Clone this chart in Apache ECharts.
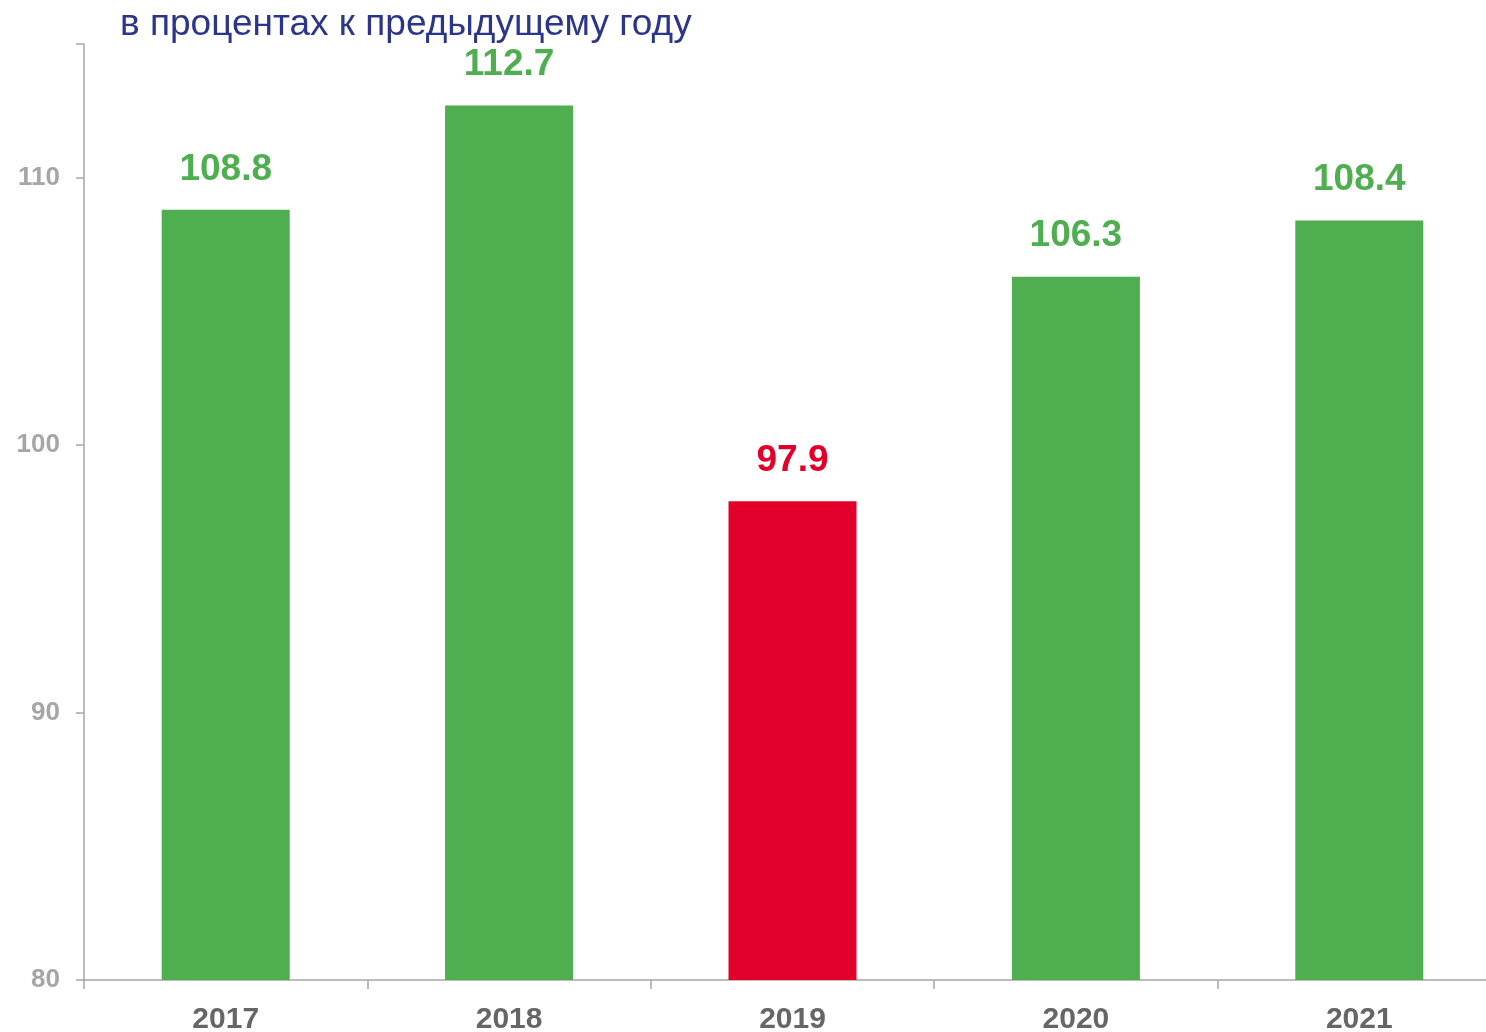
<!DOCTYPE html>
<html>
<head>
<meta charset="utf-8">
<script src="https://cdn.jsdelivr.net/npm/echarts@6/dist/echarts.min.js"></script>
<style>html,body{margin:0;padding:0;background:#fff}#c{width:1486px;height:1032px}</style>
</head>
<body>
<div id="c"></div>
<script>
var titleText = 'в процентах к предыдущему году';
var categories = ['2017', '2018', '2019', '2020', '2021'];
var values = [108.8, 112.7, 97.9, 106.3, 108.4];
var yTicks = [80, 90, 100, 110];

var GREEN = '#4FAE4F', RED = '#E2002B';
var chart = echarts.init(document.getElementById('c'));
chart.setOption({
  animation: false,
  title: {
    text: titleText, left: 115, top: 1,
    textStyle: { color: '#2B3589', fontSize: 37, fontWeight: 'normal', fontFamily: 'Liberation Sans, Arial, sans-serif' }
  },
  grid: { left: 84, right: -15, top: 44, bottom: 52, containLabel: false, outerBoundsMode: 'none' },
  xAxis: {
    type: 'category', data: categories,
    axisLine: { lineStyle: { color: '#A6A6A6', width: 1.5 } },
    axisTick: { show: true, length: 9, lineStyle: { color: '#A6A6A6', width: 1.5 } },
    axisLabel: { color: '#666666', fontSize: 30, fontWeight: 'bold', margin: 25, fontFamily: 'Liberation Sans, Arial, sans-serif' }
  },
  yAxis: {
    type: 'value', min: 80, max: 115, interval: 10,
    splitLine: { show: false },
    axisLine: { show: true, lineStyle: { color: '#A6A6A6', width: 1.5 } },
    axisTick: { show: true, length: 8, lineStyle: { color: '#A6A6A6', width: 1.5 } },
    axisLabel: {
      color: '#A6A6A6', fontSize: 26, fontWeight: 'bold', margin: 24, fontFamily: 'Liberation Sans, Arial, sans-serif',
      formatter: function (v) { return yTicks.indexOf(v) >= 0 ? String(v) : ''; }
    }
  },
  series: [{
    type: 'bar', barWidth: 128,
    data: values.map(function (v) {
      var col = v < 100 ? RED : GREEN;
      return { value: v, itemStyle: { color: col }, label: { color: col } };
    }),
    label: {
      show: true, position: 'top', distance: 22,
      fontSize: 37, fontWeight: 'bold', fontFamily: 'Liberation Sans, Arial, sans-serif',
      formatter: function (p) { return p.value.toFixed(1); }
    }
  }]
});
</script>
</body>
</html>
